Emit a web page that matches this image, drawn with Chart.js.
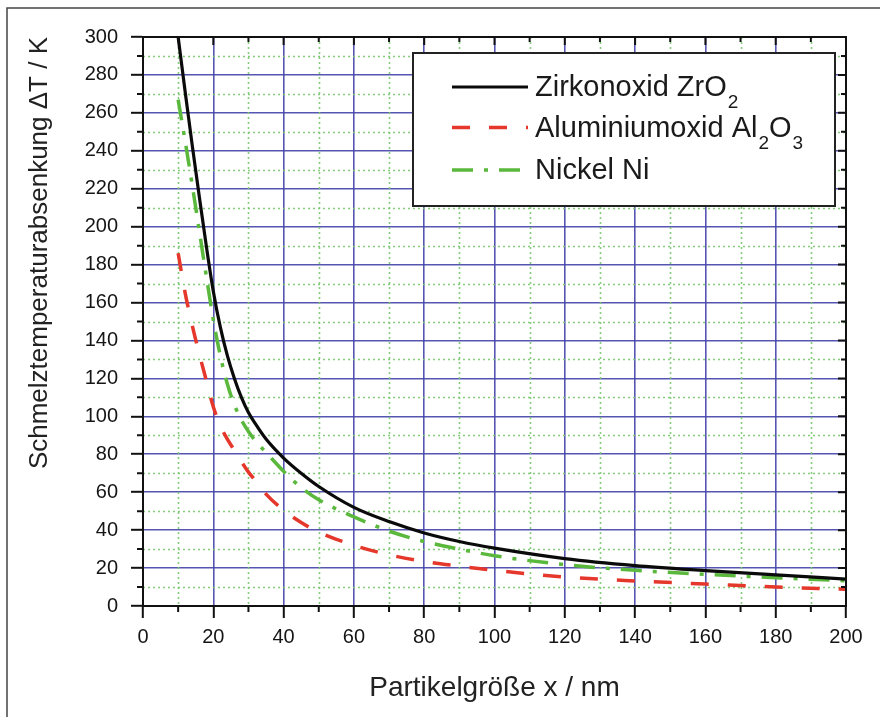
<!DOCTYPE html>
<html><head><meta charset="utf-8">
<script src="https://cdn.jsdelivr.net/npm/chart.js@4.4.0/dist/chart.umd.min.js"></script>
<style>html,body{margin:0;padding:0;background:#fff}#wrap{width:880px;height:717px;position:relative}</style>
</head><body><div id="wrap"><canvas id="c" width="880" height="717"></canvas></div>
<script>
// ---- data ----
const particleSize = [10, 12, 14, 16, 18, 20, 22, 24, 26, 28, 30, 32, 35, 40, 45, 50, 60, 70, 80, 90, 100, 120, 140, 160, 180, 200];
const zro2   = [300, 271, 243, 216, 190, 166, 147, 132, 120, 110, 102, 96, 88, 78, 70, 63, 52, 44.5, 38.5, 34, 30.5, 25, 21.3, 18.7, 16.4, 14.2];
const al2o3  = [186, 165, 148, 133, 119, 105, 95, 88, 82, 76, 70.6, 66, 59, 50.5, 44, 39, 32, 27, 23.5, 21, 18.8, 15.3, 13.2, 11.6, 10, 8.8];
const nickel = [267, 245, 222, 198, 174, 151, 132, 117, 106, 98, 92, 87, 81, 71, 62.5, 56, 47, 39.5, 34, 30, 26.5, 21.8, 18.8, 16.7, 14.9, 13.3];
const seriesNames = ['Zirkonoxid ZrO\u2082', 'Aluminiumoxid Al\u2082O\u2083', 'Nickel Ni'];
const xTickLabels = [0, 20, 40, 60, 80, 100, 120, 140, 160, 180, 200];
const yTickLabels = [0, 20, 40, 60, 80, 100, 120, 140, 160, 180, 200, 220, 240, 260, 280, 300];
const xTitle = 'Partikelgröße x / nm';
const yTitle = 'Schmelztemperaturabsenkung \u0394T / K';

const FONT = "'Liberation Sans', Arial, sans-serif";
const BLUE = 'rgba(68,68,170,0.9)';
const GREEN_GRID = 'rgba(120,200,110,0.9)';
const toPts = ys => particleSize.map((x, i) => ({x, y: ys[i]}));

const isMajor = (v, list) => list.includes(Math.round(v * 1000) / 1000);

const decor = {
  id: 'decor',
  beforeDatasetsDraw(chart) {
    const {ctx, chartArea: ca, scales: {x, y}} = chart;
    ctx.save();
    ctx.strokeStyle = GREEN_GRID;
    ctx.lineWidth = 1.6;
    ctx.setLineDash([2, 3]);
    for (let v = 10; v < 200; v += 20) {
      const px = Math.round(x.getPixelForValue(v)) + 0.5;
      ctx.beginPath(); ctx.moveTo(px, ca.top); ctx.lineTo(px, ca.bottom); ctx.stroke();
    }
    for (let v = 10; v < 300; v += 20) {
      const py = Math.round(y.getPixelForValue(v)) + 0.5;
      ctx.beginPath(); ctx.moveTo(ca.left, py); ctx.lineTo(ca.right, py); ctx.stroke();
    }
    ctx.restore();
  },
  afterDatasetsDraw(chart) {
    const {ctx, chartArea: ca, scales: {x, y}} = chart;
    ctx.save();
    ctx.setLineDash([]);
    ctx.strokeStyle = '#111';
    ctx.lineWidth = 2;
    ctx.strokeRect(ca.left, ca.top, ca.right - ca.left, ca.bottom - ca.top);
    ctx.beginPath();
    for (let v = 0; v <= 200; v += 10) {
      const px = x.getPixelForValue(v);
      const maj = v % 20 === 0;
      if (!maj) { ctx.moveTo(px, ca.bottom); ctx.lineTo(px, ca.bottom + 6); }
      ctx.moveTo(px, ca.top); ctx.lineTo(px, ca.top + (maj ? 8 : 5));
    }
    for (let v = 0; v <= 300; v += 10) {
      const py = y.getPixelForValue(v);
      const maj = v % 20 === 0;
      if (!maj) { ctx.moveTo(ca.left, py); ctx.lineTo(ca.left - 6, py); }
      ctx.moveTo(ca.right, py); ctx.lineTo(ca.right - (maj ? 8 : 5), py);
    }
    ctx.stroke();

    // legend box
    const bw = 422, bh = 153;
    const bx = ca.right - 11 - bw, by = ca.top + 16;
    ctx.fillStyle = '#fff';
    ctx.fillRect(bx, by, bw, bh);
    ctx.strokeStyle = '#222';
    ctx.lineWidth = 2;
    ctx.strokeRect(bx, by, bw, bh);
    const rows = [34, 74.5, 117];
    chart.data.datasets.forEach((ds, i) => {
      const ry = by + rows[i];
      ctx.save();
      ctx.strokeStyle = ds.borderColor;
      ctx.lineWidth = ds.borderWidth;
      ctx.setLineDash(ds.borderDash || []);
      ctx.beginPath(); ctx.moveTo(bx + 39, ry); ctx.lineTo(bx + 115, ry); ctx.stroke();
      ctx.restore();
      let tx = bx + 122;
      ctx.fillStyle = '#1a1a1a';
      ctx.textBaseline = 'middle';
      ctx.textAlign = 'left';
      const subs = '\u2080\u2081\u2082\u2083\u2084\u2085\u2086\u2087\u2088\u2089';
      let buf = '';
      const flush = () => {
        if (!buf) return;
        ctx.font = '29px ' + FONT;
        ctx.fillText(buf, tx, ry + 1);
        tx += ctx.measureText(buf).width;
        buf = '';
      };
      for (const ch of ds.label) {
        const si = subs.indexOf(ch);
        if (si >= 0) {
          flush();
          ctx.font = '19px ' + FONT;
          ctx.fillText(String(si), tx + 1, ry + 16);
          tx += ctx.measureText(String(si)).width + 1;
        } else buf += ch;
      }
      flush();
    });
    ctx.restore();
  },
  afterDraw(chart) {
    const {ctx} = chart;
    ctx.save();
    ctx.strokeStyle = '#444';
    ctx.lineWidth = 1.5;
    ctx.beginPath();
    ctx.moveTo(7, 717); ctx.lineTo(7, 8); ctx.lineTo(880, 8);
    ctx.stroke();
    ctx.restore();
  }
};

new Chart(document.getElementById('c'), {
  type: 'line',
  data: {
    datasets: [
      {label: seriesNames[0], data: toPts(zro2), borderColor: '#0a0a0a', borderWidth: 3.2, borderDash: []},
      {label: seriesNames[1], data: toPts(al2o3), borderColor: '#e5372b', borderWidth: 3.5, borderDash: [18, 19]},
      {label: seriesNames[2], data: toPts(nickel), borderColor: '#5ab83c', borderWidth: 3.5, borderDash: [21, 11, 4, 11]}
    ]
  },
  options: {
    responsive: false,
    animation: false,
    devicePixelRatio: 1,
    layout: {padding: {left: 0, right: 34, top: 37, bottom: 0}},
    elements: {point: {radius: 0}, line: {cubicInterpolationMode: 'monotone', fill: false}},
    plugins: {legend: {display: false}, tooltip: {enabled: false}},
    scales: {
      x: {
        type: 'linear', min: 0, max: 200,
        ticks: {stepSize: 10, autoSkip: false, maxRotation: 0, minRotation: 0, padding: 7,
          font: {size: 20, family: FONT}, color: '#151515',
          callback: v => isMajor(v, xTickLabels) ? String(v) : ''},
        grid: {color: c => isMajor(c.tick.value, xTickLabels) ? BLUE : 'rgba(0,0,0,0)', lineWidth: 1.6,
          tickLength: 12, tickWidth: 2, tickColor: c => isMajor(c.tick.value, xTickLabels) ? '#111' : 'rgba(0,0,0,0)'},
        border: {display: true, color: '#111', width: 2},
        title: {display: true, text: xTitle, font: {size: 28, family: FONT}, color: '#222', padding: {top: 0, bottom: 12}},
        afterFit: s => { s.height = 111; }
      },
      y: {
        type: 'linear', min: 0, max: 300,
        ticks: {stepSize: 10, autoSkip: false, padding: 13,
          font: {size: 20, family: FONT}, color: '#151515',
          callback: v => isMajor(v, yTickLabels) ? String(v) : ''},
        grid: {color: c => isMajor(c.tick.value, yTickLabels) ? BLUE : 'rgba(0,0,0,0)', lineWidth: 1.6,
          tickLength: 12, tickWidth: 2, tickColor: c => isMajor(c.tick.value, yTickLabels) ? '#111' : 'rgba(0,0,0,0)'},
        border: {display: true, color: '#111', width: 2},
        title: {display: true, text: yTitle, align: 'end', font: {size: 26, family: FONT}, color: '#222', padding: {top: 24, bottom: 0}},
        afterFit: s => { s.width = 143; }
      }
    }
  },
  plugins: [decor]
});
</script>
</body></html>
